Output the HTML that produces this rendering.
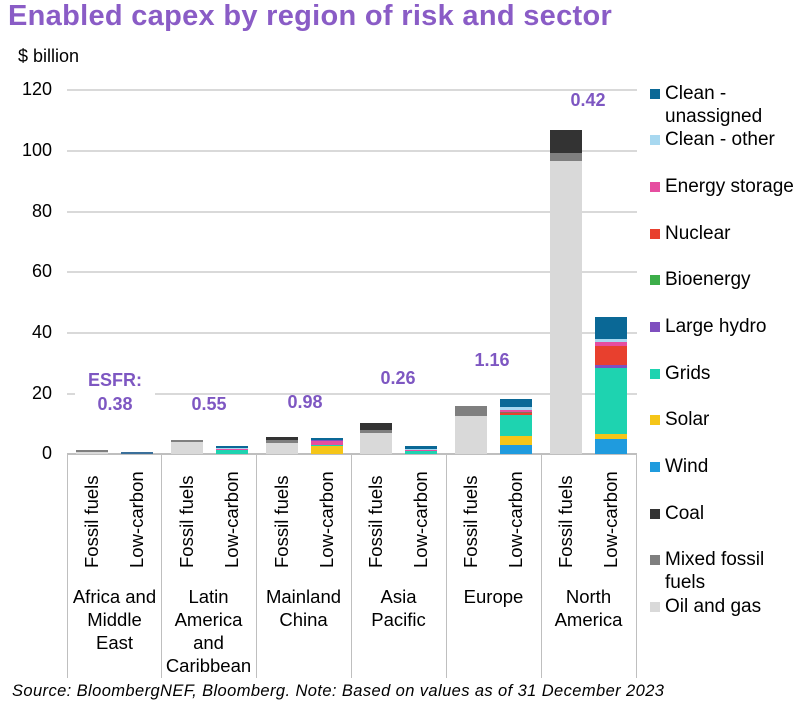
<!DOCTYPE html>
<html><head><meta charset="utf-8"><style>
body{margin:0;width:812px;height:704px;background:#fff;position:relative;overflow:hidden;font-family:"Liberation Sans",Arial,sans-serif;color:#000}
.a{position:absolute}
.bar{position:absolute;bottom:250px;width:32px;display:flex;flex-direction:column-reverse}
.bar div{width:100%}
.gl{position:absolute;left:67px;width:570px;height:2px;background:#d9d9d9}
.yl{position:absolute;left:0;width:52px;text-align:right;font-size:18px}
.sep{position:absolute;top:454px;width:1px;height:224px;background:#bfbfbf}
.rot{position:absolute;top:464px;height:104px;width:24px;writing-mode:vertical-rl;transform:rotate(180deg);font-size:18.5px;text-align:left;line-height:24px}
.reg{position:absolute;top:585px;width:95px;text-align:center;font-size:18.5px;line-height:23px}
.reg span{display:inline-block;width:86px}
.esfr{position:absolute;color:#7e57c2;font-weight:bold;font-size:18px;text-align:center;width:80px;line-height:24px}
.lg{position:absolute;left:650px;font-size:19px;line-height:23px}
.lg i{position:absolute;left:0;top:7px;width:10px;height:10px}
.lg span{position:absolute;left:15px;top:0;white-space:nowrap}
</style></head><body>
<div class="a" style="left:8px;top:0px;font-size:29px;font-weight:bold;color:#8a5cc6;letter-spacing:0.3px">Enabled capex by region of risk and sector</div>
<div class="a" style="left:18px;top:46px;font-size:18px">$ billion</div>

<div class="gl" style="top:89px"></div><div class="gl" style="top:150px"></div><div class="gl" style="top:211px"></div><div class="gl" style="top:271px"></div><div class="gl" style="top:332px"></div><div class="gl" style="top:393px"></div><div class="gl" style="top:453px;background:#bfbfbf"></div>
<div class="yl" style="top:79px">120</div><div class="yl" style="top:140px">100</div><div class="yl" style="top:201px">80</div><div class="yl" style="top:261px">60</div><div class="yl" style="top:322px">40</div><div class="yl" style="top:383px">20</div><div class="yl" style="top:443px">0</div>

<div class="bar" style="left:76px"><div style="height:2.4px;background:#d9d9d9"></div><div style="height:1.5px;background:#7f7f7f"></div></div>
<div class="bar" style="left:121px"><div style="height:1.8px;background:#3a6f9a"></div></div>
<div class="bar" style="left:171px"><div style="height:12.1px;background:#d9d9d9"></div><div style="height:1.5px;background:#7f7f7f"></div></div>
<div class="bar" style="left:216px"><div style="height:4.5px;background:#1ed3b0"></div><div style="height:1px;background:#e64da0"></div><div style="height:1px;background:#a8d8f0"></div><div style="height:1.5px;background:#0a6896"></div></div>
<div class="bar" style="left:266px"><div style="height:11.2px;background:#d9d9d9"></div><div style="height:2.4px;background:#7f7f7f"></div><div style="height:3.6px;background:#333"></div></div>
<div class="bar" style="left:311px"><div style="height:7.6px;background:#f5c518"></div><div style="height:1.8px;background:#1ed3b0"></div><div style="height:3.3px;background:#e64da0"></div><div style="height:1.2px;background:#7f4fbf"></div><div style="height:1.8px;background:#0a6896"></div></div>
<div class="bar" style="left:360px"><div style="height:21.2px;background:#d9d9d9"></div><div style="height:3px;background:#7f7f7f"></div><div style="height:6.7px;background:#333"></div></div>
<div class="bar" style="left:405px"><div style="height:3px;background:#1ed3b0"></div><div style="height:1.5px;background:#e64da0"></div><div style="height:1px;background:#a8d8f0"></div><div style="height:3px;background:#0a6896"></div></div>
<div class="bar" style="left:455px"><div style="height:38.5px;background:#d9d9d9"></div><div style="height:10px;background:#7f7f7f"></div></div>
<div class="bar" style="left:500px"><div style="height:9.1px;background:#1f9bde"></div><div style="height:8.5px;background:#f5c518"></div><div style="height:21.2px;background:#1ed3b0"></div><div style="height:1.8px;background:#e8402e"></div><div style="height:1.8px;background:#8a6d5a"></div><div style="height:1.2px;background:#e64da0"></div><div style="height:3.6px;background:#a8d8f0"></div><div style="height:7.9px;background:#0a6896"></div></div>
<div class="bar" style="left:550px"><div style="height:292.7px;background:#d9d9d9"></div><div style="height:8.5px;background:#7f7f7f"></div><div style="height:22.7px;background:#333"></div></div>
<div class="bar" style="left:595px"><div style="height:15.2px;background:#1f9bde"></div><div style="height:5.2px;background:#f5c518"></div><div style="height:66.1px;background:#1ed3b0"></div><div style="height:3px;background:#7f4fbf"></div><div style="height:18.2px;background:#e8402e"></div><div style="height:4.5px;background:#e64da0"></div><div style="height:3px;background:#a8d8f0"></div><div style="height:21.8px;background:#0a6896"></div></div>

<div class="sep" style="left:67px"></div><div class="sep" style="left:161px"></div><div class="sep" style="left:256px"></div><div class="sep" style="left:351px"></div><div class="sep" style="left:446px"></div><div class="sep" style="left:541px"></div><div class="sep" style="left:636px"></div>

<div class="rot" style="left:80px">Fossil fuels</div><div class="rot" style="left:125px">Low-carbon</div>
<div class="rot" style="left:175px">Fossil fuels</div><div class="rot" style="left:220px">Low-carbon</div>
<div class="rot" style="left:270px">Fossil fuels</div><div class="rot" style="left:315px">Low-carbon</div>
<div class="rot" style="left:364px">Fossil fuels</div><div class="rot" style="left:409px">Low-carbon</div>
<div class="rot" style="left:459px">Fossil fuels</div><div class="rot" style="left:504px">Low-carbon</div>
<div class="rot" style="left:554px">Fossil fuels</div><div class="rot" style="left:599px">Low-carbon</div>

<div class="reg" style="left:67px">Africa and<br>Middle<br>East</div>
<div class="reg" style="left:161px">Latin<br>America<br>and<br>Caribbean</div>
<div class="reg" style="left:256px">Mainland<br>China</div>
<div class="reg" style="left:351px">Asia<br>Pacific</div>
<div class="reg" style="left:446px">Europe</div>
<div class="reg" style="left:541px">North<br>America</div>

<div class="esfr" style="left:75px;top:368px;background:#fff">ESFR:<br>0.38</div>
<div class="esfr" style="left:169px;top:392px">0.55</div>
<div class="esfr" style="left:265px;top:390px">0.98</div>
<div class="esfr" style="left:358px;top:366px">0.26</div>
<div class="esfr" style="left:452px;top:348px">1.16</div>
<div class="esfr" style="left:548px;top:88px">0.42</div>

<div class="lg" style="top:82px"><i style="background:#0a6896"></i><span>Clean -<br>unassigned</span></div>
<div class="lg" style="top:128px"><i style="background:#a8d8f0"></i><span>Clean - other</span></div>
<div class="lg" style="top:175px"><i style="background:#e64da0"></i><span>Energy storage</span></div>
<div class="lg" style="top:222px"><i style="background:#e8402e"></i><span>Nuclear</span></div>
<div class="lg" style="top:268px"><i style="background:#3cae49"></i><span>Bioenergy</span></div>
<div class="lg" style="top:315px"><i style="background:#7f4fbf"></i><span>Large hydro</span></div>
<div class="lg" style="top:362px"><i style="background:#1ed3b0"></i><span>Grids</span></div>
<div class="lg" style="top:408px"><i style="background:#f5c518"></i><span>Solar</span></div>
<div class="lg" style="top:455px"><i style="background:#1f9bde"></i><span>Wind</span></div>
<div class="lg" style="top:502px"><i style="background:#333"></i><span>Coal</span></div>
<div class="lg" style="top:548px"><i style="background:#7f7f7f"></i><span>Mixed fossil<br>fuels</span></div>
<div class="lg" style="top:595px"><i style="background:#d9d9d9"></i><span>Oil and gas</span></div>

<div class="a" style="left:12px;top:682px;font-size:16.5px;font-style:italic;letter-spacing:0.4px">Source: BloombergNEF, Bloomberg. Note: Based on values as of 31 December 2023</div>
</body></html>
